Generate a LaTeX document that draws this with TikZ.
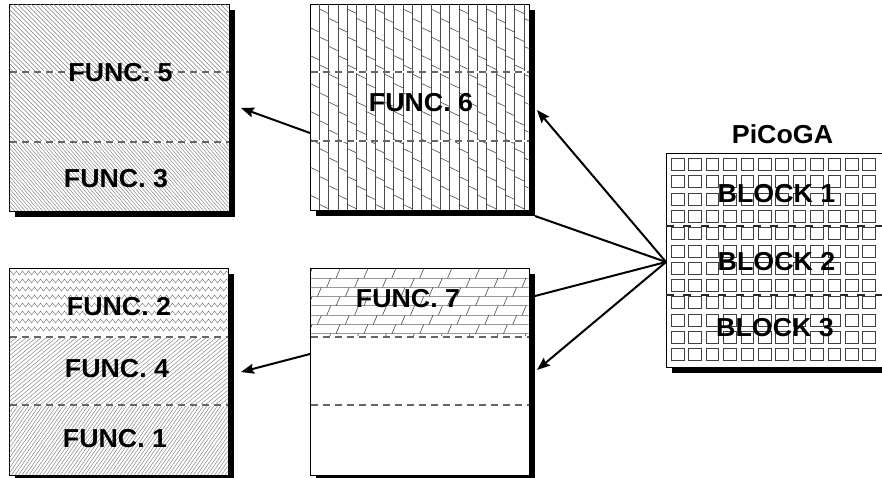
\documentclass[tikz,border=0pt]{standalone}
\usepackage{fontspec}
\setmainfont{Liberation Sans}
\newfontfamily\lblfont{Liberation Sans}[FakeStretch=1.03]
\usetikzlibrary{arrows.meta,decorations.pathmorphing}
\tikzset{
  fbx/.style={draw=black, fill=white, line width=0.8pt, inner sep=0pt},
  shd/.style={fill=black},
  hatchA/.style={draw=black!50, line width=0.45pt},
  hatchB/.style={draw=black!50, line width=0.45pt},
  zz/.style={draw=black!50, line width=0.5pt, decorate, decoration={zigzag, segment length=6pt, amplitude=2pt}},
  vl/.style={draw=black!70, line width=0.6pt},
  hl/.style={draw=black!40, line width=1pt},
  stk/.style={draw=black!70, line width=0.6pt},
  sep/.style={draw=black!60, line width=1.3pt, dash pattern=on 7pt off 5pt, preaction={draw=white, solid, line width=1.5pt}},
  edash/.style={draw=black!85, line width=1.3pt, dash pattern=on 8pt off 9.4pt},
  sq/.style={draw=black!75, line width=0.9pt},
  lbl/.style={inner sep=0pt, font=\lblfont\bfseries\fontsize{26}{29}\selectfont},
  arr/.style={line width=2pt, -{Stealth[length=13pt, width=10pt, inset=2pt]}},
  ln/.style={line width=2pt}
}
\begin{document}
\begin{tikzpicture}[x=1pt, y=-1pt]
\useasboundingbox (0,0) rectangle (882,477);
\clip (0,0) rectangle (882,477);

% shadows
\fill[shd] (15,10) rectangle (235,217);
\fill[shd] (316,10) rectangle (535,216);
\fill[shd] (15,274) rectangle (234,481);
\fill[shd] (316,274) rectangle (535,481);
\fill[shd] (672,159) rectangle (890,373);

% boxes
\node[fbx, minimum width=220pt, minimum height=207pt] (bA) at (119,107.5) {};
\node[fbx, minimum width=219pt, minimum height=206pt] (bB) at (419.5,107) {};
\node[fbx, minimum width=219pt, minimum height=207pt] (bC) at (118.5,371.5) {};
\node[fbx, minimum width=219pt, minimum height=207pt] (bD) at (419.5,371.5) {};
\node[fbx, minimum width=218pt, minimum height=214pt] (bE) at (775,260) {};

% box A patterns
\begin{scope}
\clip (9.5,4.5) rectangle (228.5,142);
\foreach \i in {-140,-135.5,...,230} \draw[hatchA] (\i,4) -- ++(140,140);
\end{scope}
\begin{scope}
\clip (9.5,142) rectangle (228.5,210.5);
\foreach \i in {-62,-58.5,...,230} \draw[hatchB] (\i,142) -- ++(60,70);
\end{scope}

% box C patterns
\begin{scope}
\clip (9.5,268.5) rectangle (227.5,337);
\foreach \y in {273,281,...,333} \draw[zz] (3,\y) -- (233,\y);
\end{scope}
\begin{scope}
\clip (9.5,337) rectangle (227.5,405);
\foreach \i in {-85,-80,...,230} \draw[hatchA] (\i,405) -- ++(82,-68);
\end{scope}
\begin{scope}
\clip (9.5,405) rectangle (227.5,474.5);
\foreach \i in {-55,-51.5,...,230} \draw[hatchB] (\i,475) -- ++(49,-70);
\end{scope}

% box B pattern
\begin{scope}
\clip (310.5,4.5) rectangle (528.5,209.5);
\foreach \k in {1,...,23} \draw[vl] ({310+9.3*\k},4) -- ++(0,206);
\foreach \k in {0,...,23} \foreach \m in {-8,...,8}
  \draw[stk] ({310+9.3*\k},{-0.3+9.3*\k+27.9*\m}) -- ++(9.3,4.5);
\end{scope}

% box D pattern
\begin{scope}
\clip (310.5,268.5) rectangle (528.5,337);
\foreach \j in {0,...,6} \draw[hl] (310,{278+9.3*\j}) -- ++(219,0);
\foreach \j in {0,...,7} \foreach \n in {-1,...,9}
  \draw[stk] ({336-9.3*\j+27.9*\n},{278+9.3*\j}) -- ++(4,-9.3);
\end{scope}

% separators
\draw[sep] (9.5,72) -- (228.5,72);
\draw[sep] (9.5,142) -- (228.5,142);
\draw[sep] (310.5,72) -- (528.5,72);
\draw[sep] (310.5,141) -- (528.5,141);
\draw[sep] (9.5,337) -- (227.5,337);
\draw[sep] (9.5,405) -- (227.5,405);
\draw[sep] (310.5,337) -- (528.5,337);
\draw[sep] (310.5,405) -- (528.5,405);

% PiCoGA cells
\foreach \c in {0,...,11} \foreach \r in {0,...,11}
  \draw[sq] ({671.5+17.4*\c},{158.5+17.3*\r}) rectangle ++(12.5,12);
\draw[edash] (666,226) -- (884,226);
\draw[edash] (666,295) -- (884,295);

% labels
\node[lbl] (t5) at (120.5,72.5) {FUNC. 5};
\node[lbl] (t3) at (116,178.5) {FUNC. 3};
\node[lbl] (t6) at (421,102.5) {FUNC. 6};
\node[lbl] (t2) at (119,306.5) {FUNC. 2};
\node[lbl] (t4) at (117,369) {FUNC. 4};
\node[lbl] (t1) at (115,439) {FUNC. 1};
\node[lbl] (t7) at (408,299) {FUNC. 7};
\node[lbl] (tp) at (782.5,134) {PiCoGA};
\node[lbl] (k1) at (776.5,194) {BLOCK 1};
\node[lbl] (k2) at (776.5,262) {BLOCK 2};
\node[lbl] (k3) at (775,327.5) {BLOCK 3};

% connectors
\coordinate (P) at (666,262);
\coordinate (sB) at (310,133);
\coordinate (tA) at (241,108);
\coordinate (sD) at (310,354);
\coordinate (tC) at (241,372);
\coordinate (tB) at (537,110);
\coordinate (cB) at (535,216);
\coordinate (cD) at (535,296);
\coordinate (tD) at (537,370);
\draw[arr] (sB) -- (tA);
\draw[arr] (sD) -- (tC);
\draw[arr] (P) -- (tB);
\draw[ln] (cB) -- (P);
\draw[ln] (cD) -- (P);
\draw[arr] (P) -- (tD);
\end{tikzpicture}
\end{document}
